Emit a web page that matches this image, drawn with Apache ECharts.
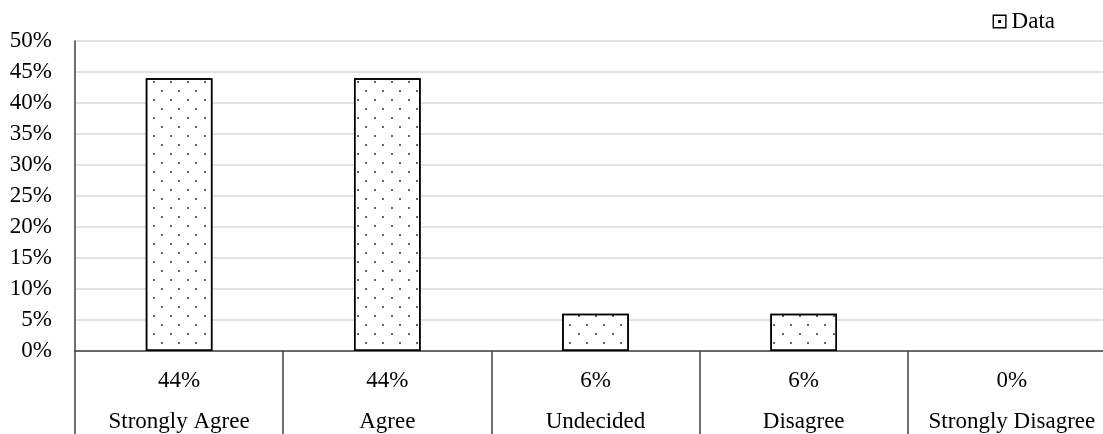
<!DOCTYPE html>
<html>
<head>
<meta charset="utf-8">
<script src="https://cdn.jsdelivr.net/npm/echarts@6/dist/echarts.min.js"></script>
<style>
html,body{margin:0;padding:0;background:#fff;}
#chart{width:1103px;height:434px;}
</style>
</head>
<body>
<div id="chart"></div>
<script>
const categories = ['Strongly Agree', 'Agree', 'Undecided', 'Disagree', 'Strongly Disagree'];
const values = [44, 44, 6, 6, 0];
const seriesName = 'Data';
const yMin = 0, yMax = 50, yStep = 5;

const FONT = 'Liberation Serif';
const FS = 23;

const decal = {
  symbol: 'rect',
  symbolSize: 0.8,
  color: '#000',
  dashArrayX: [[2, 15], [0, 8, 2, 7]],
  dashArrayY: [2, 7],
  rotation: 0
};

const chart = echarts.init(document.getElementById('chart'), null, {renderer: 'canvas'});
chart.setOption({
  animation: false,
  backgroundColor: '#fff',
  textStyle: {fontFamily: FONT, color: '#000'},
  legend: {
    top: 5,
    right: 43,
    icon: 'path://M0,0H10V10H0Z M1,1V9H9V1Z M4,4H6V6H4Z',
    itemWidth: 14,
    itemHeight: 14,
    itemStyle: {color: '#000', borderWidth: 0, decal: 'none'},
    textStyle: {fontFamily: FONT, fontSize: FS, color: '#000'},
    data: [seriesName]
  },
  grid: {left: 75, right: -13, top: 41, bottom: 83, outerBoundsMode: 'none', containLabel: false},
  xAxis: {
    type: 'category',
    data: categories,
    boundaryGap: true,
    axisLine: {show: true, lineStyle: {color: '#404040', width: 1.5}},
    axisTick: {show: true, interval: 0, length: 83, lineStyle: {color: '#404040', width: 1.5}},
    axisLabel: {
      interval: 0,
      margin: 9,
      fontFamily: FONT,
      fontSize: FS,
      color: '#000',
      lineHeight: 41,
      formatter: function (v, i) { return values[i] + '%\n' + v; }
    },
    splitLine: {show: false}
  },
  yAxis: {
    type: 'value',
    min: yMin,
    max: yMax,
    interval: yStep,
    axisLine: {show: true, lineStyle: {color: '#404040', width: 1.5}},
    axisTick: {show: false},
    axisLabel: {
      margin: 23,
      fontFamily: FONT,
      fontSize: FS,
      color: '#000',
      formatter: '{value}%'
    },
    splitLine: {show: true, lineStyle: {color: '#d9d9d9', width: 1.5}}
  },
  series: [{
    name: seriesName,
    type: 'bar',
    data: values.map(v => v === 0 ? {value: v, itemStyle: {borderWidth: 0}} : v),
    barWidth: '32%',
    itemStyle: {
      color: '#fff',
      borderColor: '#000',
      borderWidth: 1.5,
      decal: decal
    }
  }]
});
</script>
</body>
</html>
